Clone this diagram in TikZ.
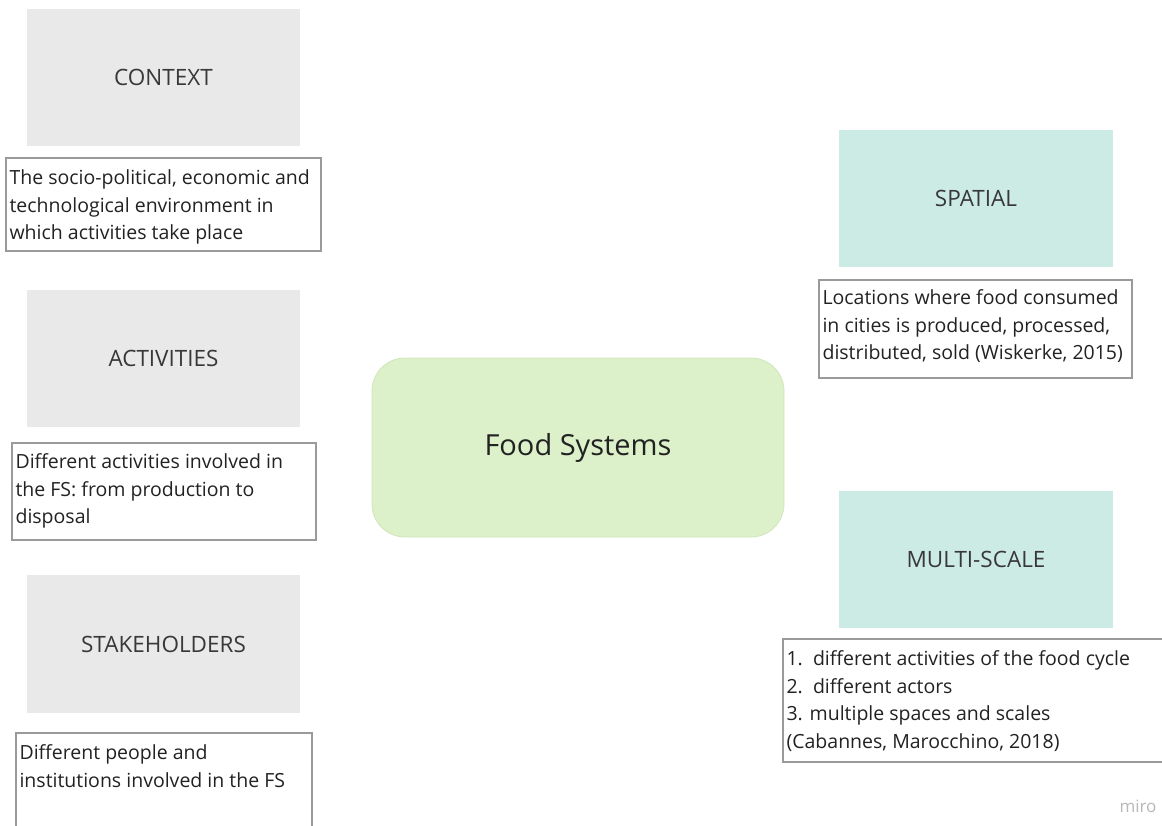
\documentclass[tikz,border=0pt]{standalone}
\usepackage{fontspec}
\setmainfont{Open Sans}
\definecolor{boxgray}{HTML}{E9E9E9}
\definecolor{boxteal}{HTML}{CDEBE5}
\definecolor{boxgreen}{HTML}{DCF0C9}
\definecolor{edgegreen}{HTML}{CFE7BB}
\definecolor{framegray}{HTML}{9A9A9A}
\definecolor{ink}{HTML}{222222}
\begin{document}
\begin{tikzpicture}[x=1pt,y=-1pt,
  topic/.style={rectangle, inner sep=0pt, text=ink!90,
    font=\fontsize{22.5}{27}\selectfont},
  graytopic/.style={topic, fill=boxgray, minimum width=273pt, minimum height=137pt},
  tealtopic/.style={topic, fill=boxteal, minimum width=274pt, minimum height=137pt},
  descbox/.style={rectangle, draw=framegray, line width=1.3pt, fill=white, inner sep=0pt},
  % multi-line text: the base anchor sits on the last line
  desctext/.style={anchor=base west, inner sep=0pt, align=left, text=ink,
    font=\fontsize{19.5}{27.7}\selectfont},
  core/.style={rectangle, rounded corners=33pt, fill=boxgreen, draw=edgegreen,
    line width=0.8pt, minimum width=412pt, minimum height=179pt, text=ink,
    font=\fontsize{29}{34}\selectfont}
]
\useasboundingbox (0,0) rectangle (1162,825);
\fill[white] (0,0) rectangle (1162,825);

% left column: topics and their descriptions
\node[graytopic] (context) at (163.5,77) {CONTEXT};
\node[descbox, minimum width=315pt, minimum height=93pt] (contextbox) at (163.5,204.5) {};
\node[desctext] (contexttxt) at ([xshift=4pt,yshift=-82.4pt]contextbox.north west)
  {The socio-political, economic and\\technological environment in\\which activities take place};

\node[graytopic] (activities) at (163.5,358.5) {ACTIVITIES};
\node[descbox, minimum width=304pt, minimum height=97pt] (activitiesbox) at (164,491.5) {};
\node[desctext] (activitiestxt) at ([xshift=4pt,yshift=-81.4pt]activitiesbox.north west)
  {Different activities involved in\\the FS: from production to\\disposal};

\node[graytopic, minimum height=138pt] (stakeholders) at (163.5,644) {STAKEHOLDERS};
\node[descbox, minimum width=296pt, minimum height=110pt] (stakeholdersbox) at (164,788) {};
\node[desctext] (stakeholderstxt) at ([xshift=4pt,yshift=-54.7pt]stakeholdersbox.north west)
  {Different people and\\institutions involved in the FS};

% centre
\node[core] (food) at (578,447.5) {Food Systems};

% right column
\node[tealtopic] (spatial) at (976,198.5) {SPATIAL};
\node[descbox, minimum width=313pt, minimum height=98pt] (spatialbox) at (975.5,329) {};
\node[desctext] (spatialtxt) at ([xshift=4pt,yshift=-80.4pt]spatialbox.north west)
  {Locations where food consumed\\in cities is produced, processed,\\distributed, sold (Wiskerke, 2015)};

\node[tealtopic, minimum height=137pt] (multiscale) at (976,559.5) {MULTI-SCALE};
\node[descbox, minimum width=390pt, minimum height=123pt] (multiscalebox) at (978,700.5) {};
\node[desctext] (multiscaletxt) at ([xshift=4pt,yshift=-110.1pt]multiscalebox.north west)
  {1.\ \ different activities of the food cycle\\2.\ \ different actors\\3. multiple spaces and scales\\(Cabannes, Marocchino, 2018)};

% watermark
\node[inner sep=0pt, text=black!28, font=\fontsize{17}{20}\selectfont] (miro) at (1138,806) {miro};
\end{tikzpicture}
\end{document}
